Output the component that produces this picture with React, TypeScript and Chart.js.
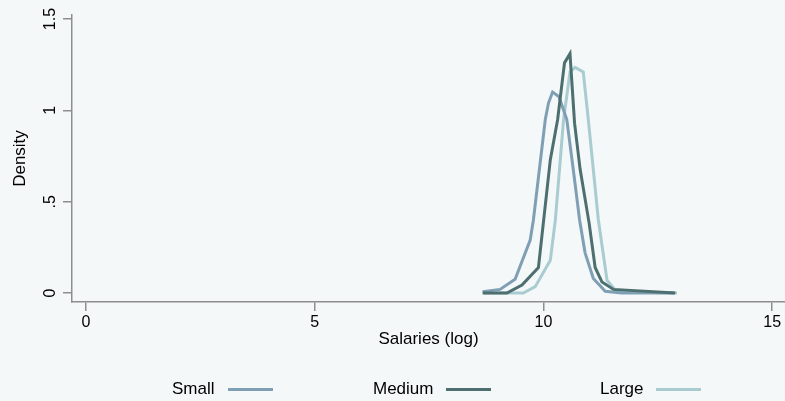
import React, { useEffect, useRef } from "react";
import { Chart, registerables } from "chart.js";

Chart.register(...registerables);

// ---- Data ----
const seriesNames = ["Small", "Medium", "Large"];
const seriesColors = ["#7f9fb5", "#4e6f70", "#a9ccd1"];

const smallX = [8.67, 9.05, 9.38, 9.71, 9.78, 10.04, 10.11, 10.2, 10.34, 10.51, 10.66, 10.79, 10.91, 11.09, 11.35, 11.71, 12.85];
const smallY = [0.007, 0.02, 0.075, 0.29, 0.4, 0.95, 1.04, 1.1, 1.075, 0.95, 0.66, 0.4, 0.22, 0.08, 0.01, 0.0, 0.0];

const mediumX = [8.67, 9.2, 9.53, 9.89, 10.15, 10.31, 10.46, 10.58, 10.68, 10.8, 11.0, 11.13, 11.28, 11.53, 12.88];
const mediumY = [0.0, 0.0, 0.044, 0.14, 0.73, 0.95, 1.26, 1.31, 0.93, 0.68, 0.38, 0.14, 0.06, 0.02, 0.0];

const largeX = [8.7, 9.56, 9.82, 10.15, 10.26, 10.44, 10.58, 10.69, 10.87, 10.98, 11.2, 11.39, 11.6, 12.92];
const largeY = [0.0, 0.0, 0.035, 0.18, 0.4, 0.95, 1.21, 1.235, 1.21, 0.95, 0.4, 0.07, 0.007, 0.0];

const xTicks = [0, 5, 10, 15];
const xTickLabels = ["0", "5", "10", "15"];
const yTicks = [0, 0.5, 1, 1.5];
const yTickLabels = ["0", ".5", "1", "1.5"];
const xTitle = "Salaries (log)";
const yTitle = "Density";

const FONT = "'Liberation Sans', Arial, Helvetica, sans-serif";
const AXIS = "#8e8e8e";
const BG = "#f5f8f9";

const seriesX = [smallX, mediumX, largeX];
const seriesY = [smallY, mediumY, largeY];
const drawOrder = [1, 0, 2];
const legendLeft = [172, 373, 600];

export default function App() {
  const ref = useRef<HTMLCanvasElement | null>(null);

  useEffect(() => {
    if (!ref.current) return;
    const chart = new Chart(ref.current, {
      type: "line",
      data: {
        datasets: seriesNames.map((name, k) => ({
          label: name,
          data: seriesX[k].map((x, i) => ({ x, y: seriesY[k][i] })),
          borderColor: seriesColors[k],
          backgroundColor: seriesColors[k],
          borderWidth: 3,
          pointRadius: 0,
          fill: false,
          tension: 0,
          order: drawOrder[k],
        })),
      },
      options: {
        responsive: false,
        animation: false,
        layout: { padding: { top: 15, right: 0, bottom: 44, left: 0 } },
        plugins: {
          legend: { display: false },
          tooltip: { enabled: false },
        },
        scales: {
          x: {
            type: "linear",
            min: -0.306,
            max: 15.28,
            afterBuildTicks: (s: any) => {
              s.ticks = xTicks.map((v) => ({ value: v }));
            },
            afterFit: (s: any) => {
              s.height = 55;
            },
            border: { display: true, color: AXIS, width: 1.5 },
            grid: { drawOnChartArea: false, drawTicks: true, tickLength: 9, color: AXIS, lineWidth: 1.5 },
            ticks: {
              color: "#000",
              font: { family: FONT, size: 16 },
              padding: 2,
              maxRotation: 0,
              autoSkip: false,
              callback: (_v: any, i: number) => xTickLabels[i],
            },
            title: {
              display: true,
              text: xTitle,
              color: "#000",
              font: { family: FONT, size: 17 },
              padding: { top: 0, bottom: 7 },
            },
          },
          y: {
            type: "linear",
            min: -0.049,
            max: 1.522,
            afterBuildTicks: (s: any) => {
              s.ticks = yTicks.map((v) => ({ value: v }));
            },
            afterFit: (s: any) => {
              s.width = 72;
            },
            border: { display: true, color: AXIS, width: 1.5 },
            grid: { drawOnChartArea: false, drawTicks: true, tickLength: 9, color: AXIS, lineWidth: 1.5 },
            ticks: {
              color: "#000",
              font: { family: FONT, size: 16 },
              padding: 1,
              minRotation: 90,
              maxRotation: 90,
              crossAlign: "center",
              autoSkip: false,
              callback: (_v: any, i: number) => yTickLabels[i],
            },
            title: {
              display: true,
              text: yTitle,
              color: "#000",
              font: { family: FONT, size: 17 },
              padding: { top: 10, bottom: 0 },
            },
          },
        },
      },
    } as any);
    return () => chart.destroy();
  }, []);

  return (
    <div
      style={{
        position: "absolute",
        left: 0,
        top: 0,
        width: 785,
        height: 401,
        background: BG,
        overflow: "hidden",
      }}
    >
      <canvas ref={ref} width={785} height={401} style={{ display: "block" }} />
      {seriesNames.map((name, k) => (
        <div
          key={name}
          style={{
            position: "absolute",
            left: legendLeft[k],
            top: 378,
            height: 22,
            display: "flex",
            alignItems: "center",
            fontFamily: FONT,
            fontSize: 17,
            color: "#000",
            whiteSpace: "nowrap",
          }}
        >
          <span>{name}</span>
          <span
            style={{
              display: "inline-block",
              width: 45,
              height: 3,
              marginLeft: 13,
              background: seriesColors[k],
            }}
          />
        </div>
      ))}
    </div>
  );
}
